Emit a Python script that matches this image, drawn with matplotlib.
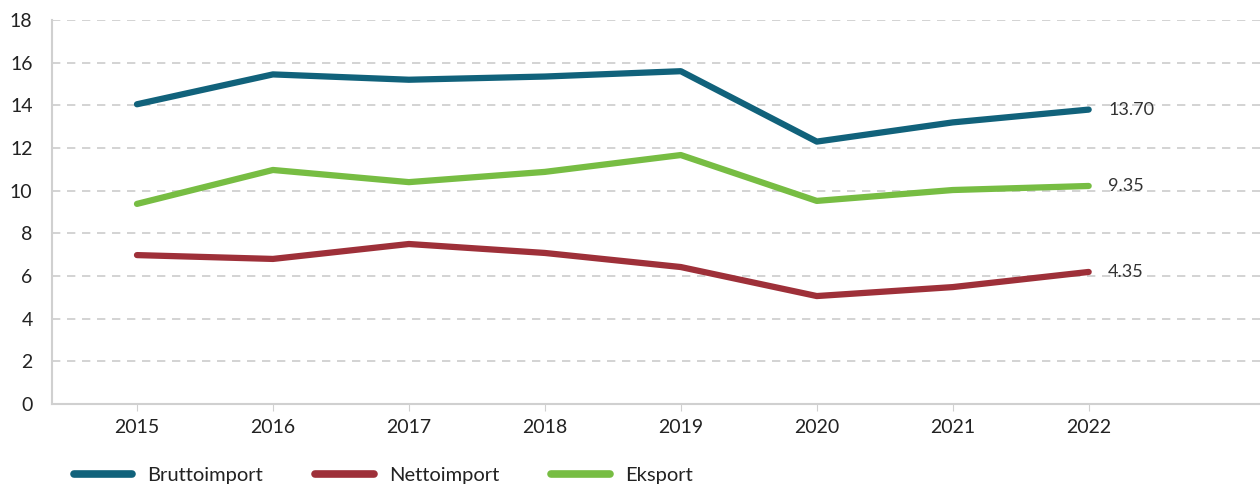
import matplotlib
matplotlib.use("Agg")
import matplotlib.pyplot as plt
from matplotlib.lines import Line2D

years = [2015, 2016, 2017, 2018, 2019, 2020, 2021, 2022]
brutto = [14.05, 15.45, 15.2, 15.35, 15.6, 12.3, 13.2, 13.8]
netto = [6.98, 6.8, 7.5, 7.08, 6.42, 5.06, 5.48, 6.19]
eksport = [9.38, 10.97, 10.4, 10.88, 11.67, 9.52, 10.03, 10.22]
series_names = ["Bruttoimport", "Nettoimport", "Eksport"]
end_labels = ["13.70", "4.35", "9.35"]
yticks = [0, 2, 4, 6, 8, 10, 12, 14, 16, 18]

colors = ["#11627B", "#9E3039", "#77BD43"]
plt.rcParams['font.family'] = ['Lato', 'DejaVu Sans']

fig = plt.figure(figsize=(12.6, 4.86), dpi=100)
ax = fig.add_axes([52/1260, 82/486, 1 - 52/1260, (404-20)/486])

for vals, c in zip([brutto, netto, eksport], colors):
    ax.plot(years, vals, color=c, lw=4.5, solid_capstyle='round', solid_joinstyle='round', zorder=3)

for vals, lab in zip([brutto, netto, eksport], end_labels):
    ax.annotate(lab, (years[-1], vals[-1]), xytext=(14, 0), textcoords='offset points',
                va='center', ha='left', fontsize=13, color='#333333')

ax.set_ylim(0, 18)
ax.set_yticks(yticks)
ax.set_xlim(2014.375, 2023.26)
ax.set_xticks(years)
ax.set_xticklabels([str(y) for y in years])
ax.grid(axis='y', color='#cccccc', linestyle=(0, (5, 4)), lw=1.2)
ax.set_axisbelow(True)
for s in ['top', 'right']:
    ax.spines[s].set_visible(False)
for s in ['left', 'bottom']:
    ax.spines[s].set_color('#d0d0d0')
    ax.spines[s].set_linewidth(1.5)
ax.tick_params(axis='y', length=0, labelsize=14, colors='#222222', pad=14)
ax.tick_params(axis='x', length=5, color='#d0d0d0', labelsize=14, labelcolor='#222222', pad=6)
for lbl in ax.get_yticklabels():
    lbl.set_horizontalalignment('right')

handles = [Line2D([0], [0], color=c, lw=5.5, solid_capstyle='round') for c in colors]
leg = fig.legend(handles, series_names, loc='center left', bbox_to_anchor=(0.044, 0.021),
                 ncol=3, frameon=False, fontsize=14.5, handlelength=2.9, handletextpad=0.75,
                 columnspacing=2.6, labelcolor='#222222')

fig.savefig("out.png", dpi=100)
